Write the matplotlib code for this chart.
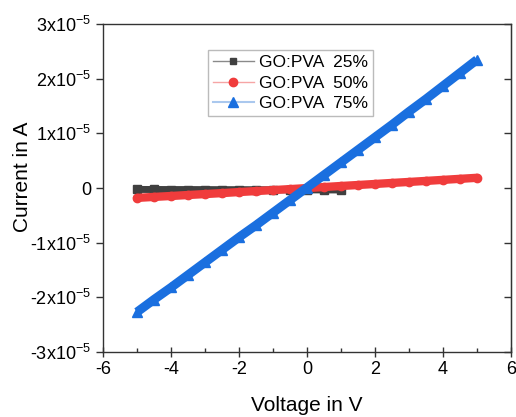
import matplotlib
matplotlib.use("Agg")
import matplotlib.pyplot as plt
from matplotlib.lines import Line2D
from matplotlib.ticker import FixedLocator, MultipleLocator

plt.rcParams['font.family'] = ['Liberation Sans', 'DejaVu Sans']
plt.rcParams['mathtext.fontset'] = 'custom'
plt.rcParams['mathtext.rm'] = 'Liberation Sans'
plt.rcParams['mathtext.it'] = 'Liberation Sans:italic'
plt.rcParams['axes.unicode_minus'] = False

# voltage sweep (V) and currents (A)
v_full = [-5.0, -4.5, -4.0, -3.5, -3.0, -2.5, -2.0, -1.5, -1.0, -0.5, 0.0,
          0.5, 1.0, 1.5, 2.0, 2.5, 3.0, 3.5, 4.0, 4.5, 5.0]
v_25 = [-5.0, -4.5, -4.0, -3.5, -3.0, -2.5, -2.0, -1.5, -1.0, -0.5, 0.0, 0.5, 1.0]

i_25 = [-0.25e-6, -0.26e-6, -0.27e-6, -0.27e-6, -0.28e-6, -0.29e-6, -0.29e-6,
        -0.30e-6, -0.31e-6, -0.32e-6, -0.33e-6, -0.34e-6, -0.35e-6]
i_50 = [-1.80e-6, -1.62e-6, -1.45e-6, -1.27e-6, -1.10e-6, -0.92e-6, -0.73e-6,
        -0.55e-6, -0.37e-6, -0.19e-6, 0.0, 0.19e-6, 0.38e-6, 0.56e-6, 0.75e-6,
        0.94e-6, 1.12e-6, 1.31e-6, 1.50e-6, 1.69e-6, 1.88e-6]
i_75 = [-2.27e-5, -2.04e-5, -1.82e-5, -1.59e-5, -1.36e-5, -1.13e-5, -0.90e-5,
        -0.68e-5, -0.45e-5, -0.22e-5, 0.01e-5, 0.24e-5, 0.47e-5, 0.70e-5,
        0.93e-5, 1.16e-5, 1.40e-5, 1.63e-5, 1.87e-5, 2.11e-5, 2.35e-5]

labels = ['GO:PVA  25%', 'GO:PVA  50%', 'GO:PVA  75%']
y_ticks = [-3e-5, -2e-5, -1e-5, 0, 1e-5, 2e-5, 3e-5]
y_ticklabels = ['-3x10$^{-5}$', '-2x10$^{-5}$', '-1x10$^{-5}$', '0',
                '1x10$^{-5}$', '2x10$^{-5}$', '3x10$^{-5}$']

fig = plt.figure(figsize=(5.16, 4.17), dpi=100)
ax = fig.add_axes([0.1996, 0.156, 0.7907, 0.786])

# dense measurement band: thick line + markers
ax.plot(v_25, i_25, color='#404040', lw=5, marker='s', ms=5.5, solid_capstyle='butt')
ax.plot(v_full, i_50, color='#f03c3c', lw=6, marker='o', ms=6, solid_capstyle='round')
ax.plot(v_full, i_75, color='#1a6fdf', lw=6.5, marker='^', ms=7.5, solid_capstyle='butt')

ax.set_xlim(-6, 6)
ax.set_ylim(-3e-5, 3e-5)
ax.xaxis.set_major_locator(MultipleLocator(2))
ax.xaxis.set_minor_locator(MultipleLocator(1))
ax.yaxis.set_major_locator(FixedLocator(y_ticks))
ax.set_yticklabels(y_ticklabels)

ax.tick_params(axis='x', which='major', direction='inout', length=7, width=1,
               labelsize=13, colors='#333333', labelcolor='black', pad=3)
ax.tick_params(axis='x', which='minor', direction='in', length=3, width=1, colors='#333333')
ax.tick_params(axis='y', which='major', direction='out', length=5, width=1,
               labelsize=13, colors='#333333', labelcolor='black', right=False)
for sp in ax.spines.values():
    sp.set_color('#333333')
    sp.set_linewidth(1)

# right-side ticks point inward
ax2 = ax.secondary_yaxis('right')
ax2.yaxis.set_major_locator(FixedLocator(y_ticks))
ax2.tick_params(direction='in', length=5, width=1, colors='#333333', labelright=False)

ax.set_xlabel('Voltage in V', fontsize=15, labelpad=13)
ax.set_ylabel('Current in A', fontsize=15, labelpad=-1)
ax.yaxis.label.set_y(0.534)

handles = [
    Line2D([], [], color='#8a8a8a', lw=1, marker='s', ms=5,
           markerfacecolor='#404040', markeredgecolor='#404040'),
    Line2D([], [], color='#f6a5a5', lw=1, marker='o', ms=6,
           markerfacecolor='#f03c3c', markeredgecolor='#f03c3c'),
    Line2D([], [], color='#aac8ee', lw=1.5, marker='^', ms=6.5,
           markerfacecolor='#1a6fdf', markeredgecolor='#1a6fdf'),
]
leg = ax.legend(handles, labels, loc='upper left', bbox_to_anchor=(0.257, 0.921),
                fontsize=12.5, frameon=True, fancybox=False, borderpad=0.3,
                labelspacing=0.3, handlelength=2.35, handletextpad=0.3,
                borderaxespad=0)
leg.get_frame().set_edgecolor('#aaaaaa')
leg.get_frame().set_linewidth(1)

fig.savefig('out.png', dpi=100)
